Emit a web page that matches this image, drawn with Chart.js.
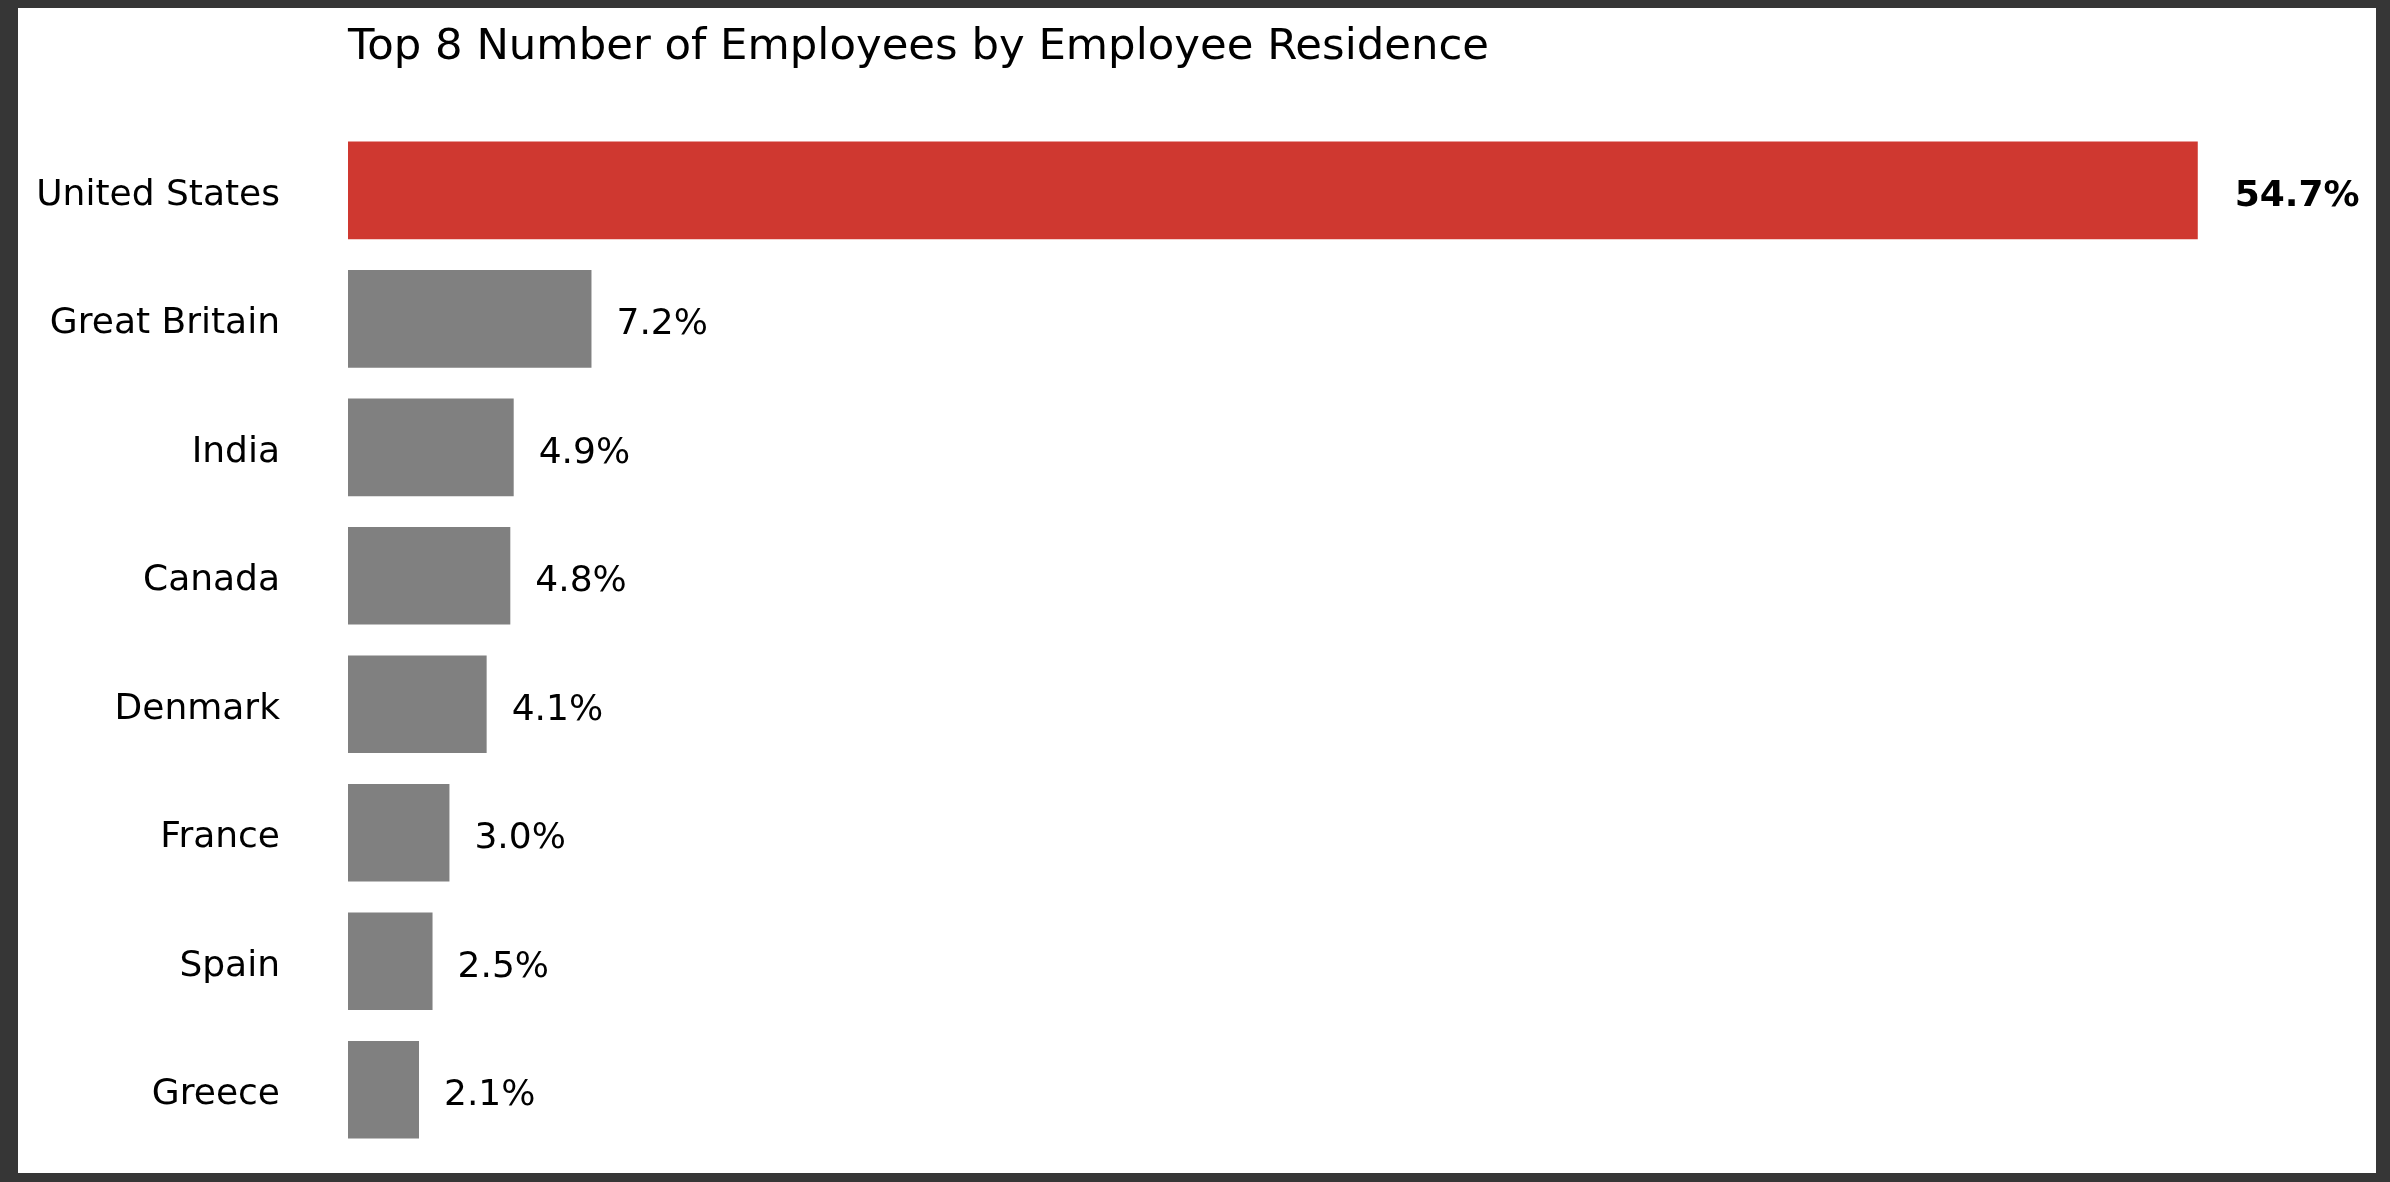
<!DOCTYPE html>
<html><head><meta charset="utf-8">
<script src="https://cdn.jsdelivr.net/npm/chart.js@4.4.1/dist/chart.umd.min.js"></script>
<style>
html,body{margin:0;padding:0;background:#363636;width:2390px;height:1182px;overflow:hidden}
canvas{position:absolute;left:0;top:0}
</style></head><body>
<canvas id="c" width="2390" height="1182"></canvas>
<script>
const titleText = 'Top 8 Number of Employees by Employee Residence';
const countries = ['United States','Great Britain','India','Canada','Denmark','France','Spain','Greece'];
const shares = [54.7, 7.2, 4.9, 4.8, 4.1, 3.0, 2.5, 2.1];
const valueLabels = ['54.7%','7.2%','4.9%','4.8%','4.1%','3.0%','2.5%','2.1%'];

const FONT = "'DejaVu Sans', sans-serif";
const RED = '#cf3830', GRAY = '#808080';

const bgPlugin = {
  id: 'bg',
  beforeDraw(chart) {
    const ctx = chart.ctx;
    ctx.save();
    ctx.fillStyle = '#363636';
    ctx.fillRect(0, 0, chart.width, chart.height);
    ctx.fillStyle = '#ffffff';
    ctx.fillRect(18, 8, 2358, 1165);
    ctx.restore();
  }
};

const labelPlugin = {
  id: 'valueLabels',
  afterDatasetsDraw(chart) {
    const ctx = chart.ctx;
    const meta = chart.getDatasetMeta(0);
    ctx.save();
    ctx.textBaseline = 'middle';
    ctx.textAlign = 'left';
    meta.data.forEach((bar, i) => {
      const bold = i === 0;
      ctx.font = (bold ? 'bold ' : '') + '36px ' + FONT;
      ctx.fillStyle = '#000000';
      ctx.fillText(valueLabels[i], bar.x + (bold ? 37 : 25), bar.y + 6);
    });
    ctx.restore();
  }
};

new Chart(document.getElementById('c'), {
  type: 'bar',
  data: {
    labels: countries,
    datasets: [{
      data: shares,
      backgroundColor: shares.map((v, i) => i === 0 ? RED : GRAY),
      borderWidth: 0,
      barPercentage: 0.76,
      categoryPercentage: 1.0
    }]
  },
  options: {
    indexAxis: 'y',
    responsive: false,
    devicePixelRatio: 1,
    animation: false,
    layout: { padding: { left: 0, right: 13, top: 0, bottom: 28 } },
    plugins: {
      legend: { display: false },
      tooltip: { enabled: false },
      title: {
        display: true,
        text: titleText,
        align: 'start',
        fullSize: false,
        color: '#000000',
        font: { family: FONT, size: 43.4, weight: 'normal' },
        padding: { top: 22, bottom: 52 }
      }
    },
    scales: {
      x: { display: false, min: 0, max: 60 },
      y: {
        grid: { display: false, drawTicks: true, tickLength: 68 },
        border: { display: false },
        ticks: { color: '#000000', font: { family: FONT, size: 36 }, padding: 0, labelOffset: 5 },
        afterFit(s) { s.width = 348; }
      }
    }
  },
  plugins: [bgPlugin, labelPlugin]
});
</script>
</body></html>
